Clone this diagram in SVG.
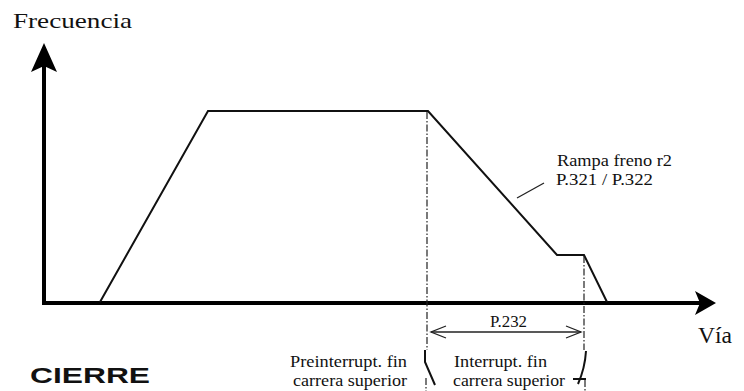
<svg xmlns="http://www.w3.org/2000/svg" width="744" height="391" viewBox="0 0 744 391">
<style>
.serif{font-family:"Liberation Serif","Times New Roman",serif;fill:#111}
.axis{stroke:#000;stroke-width:4;fill:none}
.curve{stroke:#111;stroke-width:2;fill:none;stroke-linejoin:miter}
.dd{stroke:#222;stroke-width:1.2;fill:none;stroke-dasharray:7 2 1.5 2}
.thin{stroke:#222;stroke-width:1.3;fill:none}
.br{stroke:#111;stroke-width:2;fill:none}
</style>
<rect width="744" height="391" fill="#fff"/>
<g id="axes">
<line class="axis" x1="44" y1="305" x2="44" y2="62"/>
<path d="M44 43 L57 72 L44 66 L31 72 Z" fill="#000"/>
<line class="axis" x1="42" y1="303" x2="702" y2="303"/>
<path d="M716 303 L695 291 L700 303 L695 315 Z" fill="#000"/>
</g>
<g id="profile">
<path class="curve" d="M100 302 L208 111 L428 111 L557 255 L584 255 L607 302"/>
</g>
<g id="connectors">
<line class="dd" x1="427" y1="112" x2="427" y2="350"/>
<line class="dd" x1="426" y1="378" x2="426" y2="391"/>
<line class="dd" x1="584" y1="256" x2="584" y2="350"/>
<line class="dd" x1="585" y1="380" x2="585" y2="391"/>
<line class="thin" x1="517" y1="198" x2="544" y2="183"/>
<line class="thin" x1="431" y1="332" x2="581" y2="332"/>
<path class="thin" d="M446 326 L431 332 L446 338"/>
<path class="thin" d="M566 326 L581 332 L566 338"/>
<path class="br" d="M425 350 L425 362 L435 385"/>
<path class="br" d="M586 351 Q585 368 578 384"/>
<path class="br" d="M573 379 L586 379"/>
</g>
<g id="labels">
<text class="serif" x="13" y="28" font-size="22" textLength="119" lengthAdjust="spacingAndGlyphs">Frecuencia</text>
<text class="serif" x="557" y="166" font-size="17" textLength="115" lengthAdjust="spacingAndGlyphs">Rampa freno r2</text>
<text class="serif" x="556" y="185" font-size="17" textLength="97" lengthAdjust="spacingAndGlyphs">P.321 / P.322</text>
<text class="serif" x="490" y="327" font-size="16" textLength="37" lengthAdjust="spacingAndGlyphs">P.232</text>
<text class="serif" x="698" y="343" font-size="24" textLength="34" lengthAdjust="spacingAndGlyphs">Vía</text>
<text class="serif" x="290" y="367" font-size="16" textLength="117" lengthAdjust="spacingAndGlyphs">Preinterrupt. fin</text>
<text class="serif" x="293" y="386" font-size="16" textLength="114" lengthAdjust="spacingAndGlyphs">carrera superior</text>
<text class="serif" x="454" y="367" font-size="16" textLength="93" lengthAdjust="spacingAndGlyphs">Interrupt. fin</text>
<text class="serif" x="453" y="386" font-size="16" textLength="112" lengthAdjust="spacingAndGlyphs">carrera superior</text>
<text x="30" y="383" font-family="'Liberation Sans',Arial,sans-serif" font-weight="bold" font-size="22" fill="#111" textLength="120" lengthAdjust="spacingAndGlyphs">CIERRE</text>
</g>
</svg>
